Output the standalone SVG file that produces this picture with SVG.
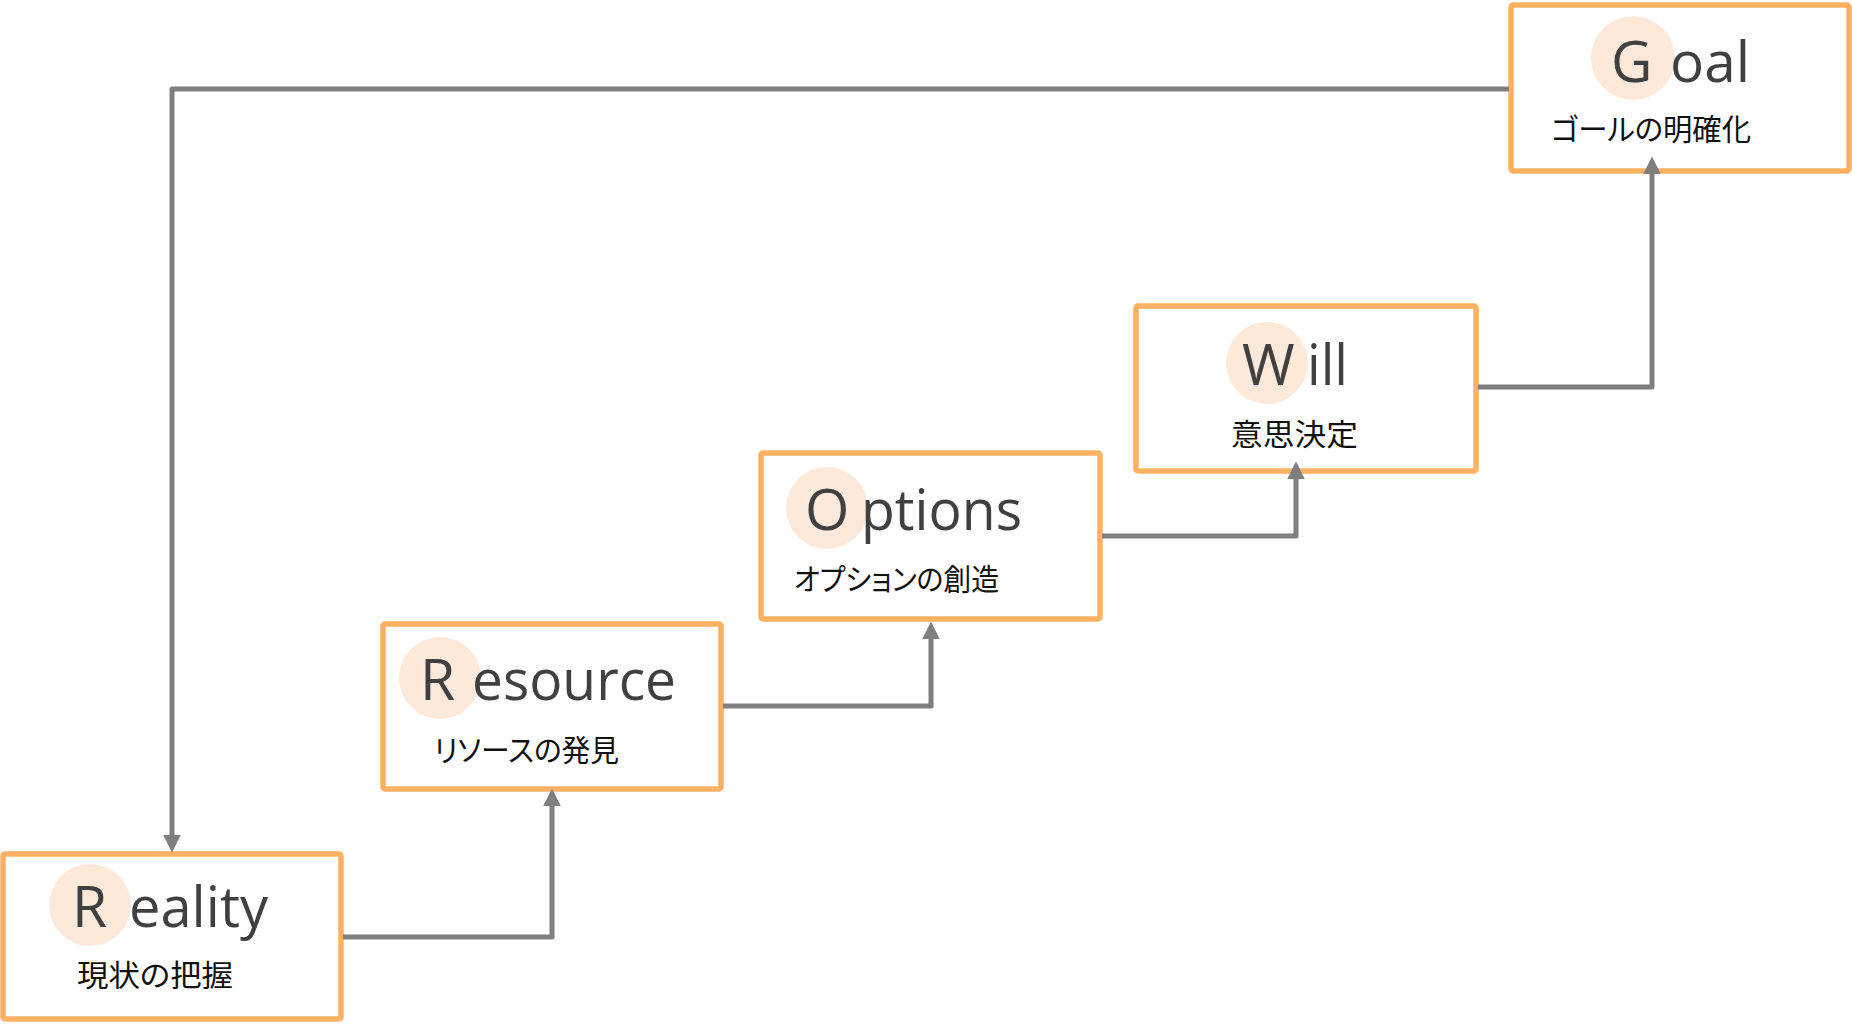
<svg xmlns="http://www.w3.org/2000/svg" width="1852" height="1024" viewBox="0 0 1852 1024">
<defs>
<style>
.box{fill:#FFFFFF;stroke:#FFB163;stroke-width:5.5}
.dot{fill:#FDE9DA}
.big{font-family:"Open Sans","Noto Sans",sans-serif;font-size:57px;fill:#404040}
.jp{font-family:"Noto Sans CJK JP",sans-serif;font-size:30px;fill:#111111;font-feature-settings:"palt"}
.con{fill:none;stroke:#7F7F7F;stroke-width:5;stroke-linejoin:round}
</style>
<marker id="arr" markerUnits="userSpaceOnUse" markerWidth="18" markerHeight="18" viewBox="0 0 17 17" refX="7" refY="8.5" orient="auto">
<path d="M0,0 L17,8.5 L0,17 Z" fill="#7F7F7F"/>
</marker>
</defs>
<rect width="1852" height="1024" fill="#FFFFFF"/>
<g id="reality">
<rect class="box" x="3" y="854" width="338" height="165" rx="2"/>
<circle class="dot" cx="90" cy="905" r="41"/>
<text class="big" x="72" y="927">R</text>
<text class="big" x="129" y="927" textLength="139" lengthAdjust="spacingAndGlyphs">eality</text>
<text class="jp" x="77" y="986" textLength="156" lengthAdjust="spacingAndGlyphs">現状の把握</text>
</g>
<g id="resource">
<rect class="box" x="383" y="624" width="338" height="165" rx="2"/>
<circle class="dot" cx="440" cy="678" r="41"/>
<text class="big" x="420" y="700">R</text>
<text class="big" x="472" y="700" textLength="204" lengthAdjust="spacingAndGlyphs">esource</text>
<text class="jp" x="434" y="761" textLength="185" lengthAdjust="spacingAndGlyphs">リソースの発見</text>
</g>
<g id="options">
<rect class="box" x="761" y="453" width="339" height="166" rx="2"/>
<circle class="dot" cx="827" cy="508" r="41"/>
<text class="big" x="805" y="530">O</text>
<text class="big" x="861" y="530" textLength="161" lengthAdjust="spacingAndGlyphs">ptions</text>
<text class="jp" x="794" y="590" textLength="205" lengthAdjust="spacingAndGlyphs">オプションの創造</text>
</g>
<g id="will">
<rect class="box" x="1136" y="306" width="340" height="165" rx="2"/>
<circle class="dot" cx="1267" cy="363" r="41"/>
<text class="big" x="1242" y="385">W</text>
<text class="big" x="1307" y="385" textLength="41" lengthAdjust="spacingAndGlyphs">ill</text>
<text class="jp" x="1231" y="445" textLength="127" lengthAdjust="spacingAndGlyphs">意思決定</text>
</g>
<g id="goal">
<rect class="box" x="1511" y="5" width="338" height="166" rx="2"/>
<circle class="dot" cx="1633" cy="58" r="42"/>
<text class="big" x="1611" y="82">G</text>
<text class="big" x="1670" y="82" textLength="80" lengthAdjust="spacingAndGlyphs">oal</text>
<text class="jp" x="1551" y="140" textLength="200" lengthAdjust="spacingAndGlyphs">ゴールの明確化</text>
</g>
<g id="connectors">
<path class="con" d="M343,937 H552 V799" marker-end="url(#arr)"/>
<path class="con" d="M723,706 H931 V632" marker-end="url(#arr)"/>
<path class="con" d="M1102,536 H1296 V472" marker-end="url(#arr)"/>
<path class="con" d="M1478,387 H1652 V167" marker-end="url(#arr)"/>
<path class="con" d="M1509,89 H172 V842" marker-end="url(#arr)"/>
</g>
</svg>
